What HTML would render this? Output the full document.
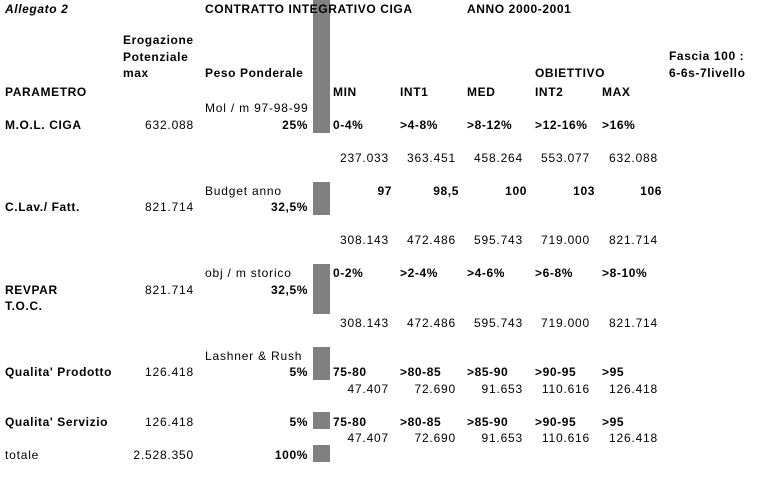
<!DOCTYPE html>
<html><head><meta charset="utf-8"><style>
html,body{margin:0;padding:0;background:#fff;}
#c{position:relative;width:766px;height:479px;overflow:hidden;background:#fff;font-family:"Liberation Sans",Arial,sans-serif;color:#000;}
.t{position:absolute;white-space:nowrap;line-height:16.5px;height:16.5px;font-size:12px;letter-spacing:0.8px;}
.b{font-weight:bold;letter-spacing:0.6px;}
.i{font-style:italic;}
.bar{position:absolute;left:313px;width:17px;background:#808080;}
</style></head><body><div id="c">
<div class="bar" style="top:0;height:133px"></div>
<div class="bar" style="top:182px;height:33px"></div>
<div class="bar" style="top:264px;height:50px"></div>
<div class="bar" style="top:347px;height:33px"></div>
<div class="bar" style="top:412px;height:17px"></div>
<div class="bar" style="top:445px;height:17px"></div>

<div class="t b i" style="left:5px;top:1px">Allegato 2</div>
<div class="t b" style="left:205px;top:1px">CONTRATTO INTEGRATIVO CIGA</div>
<div class="t b" style="left:467px;top:1px">ANNO 2000-2001</div>

<div class="t b" style="left:123px;top:32px">Erogazione</div>
<div class="t b" style="left:123px;top:48.5px">Potenziale</div>
<div class="t b" style="left:123px;top:65px">max</div>
<div class="t b" style="left:205px;top:65px">Peso Ponderale</div>
<div class="t b" style="left:535px;top:65px">OBIETTIVO</div>
<div class="t b" style="left:669px;top:48px">Fascia 100 :</div>
<div class="t b" style="left:669px;top:64.5px">6-6s-7livello</div>

<div class="t b" style="left:5px;top:83.5px">PARAMETRO</div>
<div class="t b" style="left:333px;top:83.5px">MIN</div>
<div class="t b" style="left:400px;top:83.5px">INT1</div>
<div class="t b" style="left:467px;top:83.5px">MED</div>
<div class="t b" style="left:535px;top:83.5px">INT2</div>
<div class="t b" style="left:602px;top:83.5px">MAX</div>

<div class="t" style="left:205px;top:100px">Mol / m 97-98-99</div>
<div class="t b" style="left:5px;top:116.5px">M.O.L. CIGA</div>
<div class="t" style="right:572px;top:116.5px">632.088</div>
<div class="t b" style="right:458px;top:116.5px">25%</div>
<div class="t b" style="left:333px;top:116.5px">0-4%</div>
<div class="t b" style="left:400px;top:116.5px">&gt;4-8%</div>
<div class="t b" style="left:467px;top:116.5px">&gt;8-12%</div>
<div class="t b" style="left:535px;top:116.5px">&gt;12-16%</div>
<div class="t b" style="left:602px;top:116.5px">&gt;16%</div>

<div class="t" style="right:377px;top:149.5px">237.033</div>
<div class="t" style="right:310px;top:149.5px">363.451</div>
<div class="t" style="right:243px;top:149.5px">458.264</div>
<div class="t" style="right:176px;top:149.5px">553.077</div>
<div class="t" style="right:108px;top:149.5px">632.088</div>

<div class="t" style="left:205px;top:182.5px">Budget anno</div>
<div class="t b" style="right:374px;top:182.5px">97</div>
<div class="t b" style="right:307px;top:182.5px">98,5</div>
<div class="t b" style="right:239px;top:182.5px">100</div>
<div class="t b" style="right:171px;top:182.5px">103</div>
<div class="t b" style="right:104px;top:182.5px">106</div>
<div class="t b" style="left:5px;top:199px">C.Lav./ Fatt.</div>
<div class="t" style="right:572px;top:199px">821.714</div>
<div class="t b" style="right:458px;top:199px">32,5%</div>

<div class="t" style="right:377px;top:232px">308.143</div>
<div class="t" style="right:310px;top:232px">472.486</div>
<div class="t" style="right:243px;top:232px">595.743</div>
<div class="t" style="right:176px;top:232px">719.000</div>
<div class="t" style="right:108px;top:232px">821.714</div>

<div class="t" style="left:205px;top:265px">obj / m storico</div>
<div class="t b" style="left:333px;top:265px">0-2%</div>
<div class="t b" style="left:400px;top:265px">&gt;2-4%</div>
<div class="t b" style="left:467px;top:265px">&gt;4-6%</div>
<div class="t b" style="left:535px;top:265px">&gt;6-8%</div>
<div class="t b" style="left:602px;top:265px">&gt;8-10%</div>
<div class="t b" style="left:5px;top:281.5px">REVPAR</div>
<div class="t" style="right:572px;top:281.5px">821.714</div>
<div class="t b" style="right:458px;top:281.5px">32,5%</div>
<div class="t b" style="left:5px;top:298px">T.O.C.</div>

<div class="t" style="right:377px;top:314.5px">308.143</div>
<div class="t" style="right:310px;top:314.5px">472.486</div>
<div class="t" style="right:243px;top:314.5px">595.743</div>
<div class="t" style="right:176px;top:314.5px">719.000</div>
<div class="t" style="right:108px;top:314.5px">821.714</div>

<div class="t" style="left:205px;top:347.5px">Lashner &amp; Rush</div>
<div class="t b" style="left:5px;top:364px">Qualita' Prodotto</div>
<div class="t" style="right:572px;top:364px">126.418</div>
<div class="t b" style="right:458px;top:364px">5%</div>
<div class="t b" style="left:333px;top:364px">75-80</div>
<div class="t b" style="left:400px;top:364px">&gt;80-85</div>
<div class="t b" style="left:467px;top:364px">&gt;85-90</div>
<div class="t b" style="left:535px;top:364px">&gt;90-95</div>
<div class="t b" style="left:602px;top:364px">&gt;95</div>
<div class="t" style="right:377px;top:380.5px">47.407</div>
<div class="t" style="right:310px;top:380.5px">72.690</div>
<div class="t" style="right:243px;top:380.5px">91.653</div>
<div class="t" style="right:176px;top:380.5px">110.616</div>
<div class="t" style="right:108px;top:380.5px">126.418</div>

<div class="t b" style="left:5px;top:413.5px">Qualita' Servizio</div>
<div class="t" style="right:572px;top:413.5px">126.418</div>
<div class="t b" style="right:458px;top:413.5px">5%</div>
<div class="t b" style="left:333px;top:413.5px">75-80</div>
<div class="t b" style="left:400px;top:413.5px">&gt;80-85</div>
<div class="t b" style="left:467px;top:413.5px">&gt;85-90</div>
<div class="t b" style="left:535px;top:413.5px">&gt;90-95</div>
<div class="t b" style="left:602px;top:413.5px">&gt;95</div>
<div class="t" style="right:377px;top:430px">47.407</div>
<div class="t" style="right:310px;top:430px">72.690</div>
<div class="t" style="right:243px;top:430px">91.653</div>
<div class="t" style="right:176px;top:430px">110.616</div>
<div class="t" style="right:108px;top:430px">126.418</div>

<div class="t" style="left:5px;top:446.5px">totale</div>
<div class="t" style="right:572px;top:446.5px">2.528.350</div>
<div class="t b" style="right:458px;top:446.5px">100%</div>
</div></body></html>
